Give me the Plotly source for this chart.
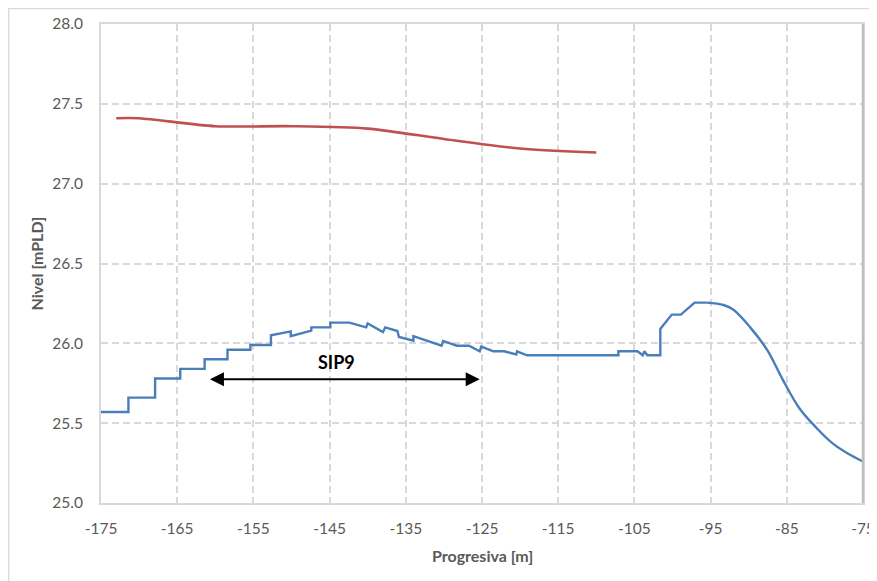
import plotly.graph_objects as go

# ---- data ----
blue_x = [-175, -171.4, -171.4, -167.9, -167.9, -164.6, -164.6, -161.4, -161.4, -158.4, -158.4,
          -155.4, -155.4, -152.7, -152.7, -150.1, -150.1, -147.4, -147.4, -144.9, -144.9, -142.4,
          -140.2, -140.0, -138.0, -137.7, -136.1, -135.9, -134.0, -134.0, -130.3, -130.1, -128.3,
          -126.7, -125.3, -125.1, -123.5, -122.1, -120.5, -120.4, -119.1, -107.1, -107.1, -104.6,
          -103.9, -103.7, -103.3, -101.6, -101.6, -100.1, -98.9, -97.1, -95.5]
blue_y = [25.57, 25.57, 25.66, 25.66, 25.78, 25.78, 25.84, 25.84, 25.90, 25.90, 25.96,
          25.96, 25.99, 25.99, 26.05, 26.075, 26.045, 26.08, 26.10, 26.10, 26.13, 26.13,
          26.10, 26.125, 26.07, 26.10, 26.077, 26.04, 26.016, 26.045, 25.985, 26.015, 25.985,
          25.985, 25.95, 25.98, 25.95, 25.95, 25.93, 25.95, 25.925, 25.925, 25.95, 25.95,
          25.925, 25.95, 25.925, 25.925, 26.09, 26.18, 26.18, 26.255, 26.255]

curve_x = [-95.5, -93.3, -92.0, -89.8, -87.6, -85.5, -83.3, -81.1, -78.9, -77.0, -75.0]
curve_y = [26.255, 26.24, 26.21, 26.10, 25.96, 25.77, 25.59, 25.47, 25.37, 25.31, 25.26]

red_x = [-173, -170, -160, -150, -140, -130, -120, -110]
red_y = [27.41, 27.41, 27.36, 27.36, 27.345, 27.28, 27.22, 27.195]

x_ticks = [-175, -165, -155, -145, -135, -125, -115, -105, -95, -85, -75]
y_ticks = [25.0, 25.5, 26.0, 26.5, 27.0, 27.5, 28.0]

arrow_x = [-160.9, -125.3]
arrow_y = 25.775
label_text = "SIP9"
label_pos = (-144.1, 25.88)

BLUE = "#4a7ebb"
RED = "#c0504d"
GRID = "#d9d9d9"
FONT = "Lato"

fig = go.Figure()
fig.add_trace(go.Scatter(x=blue_x, y=blue_y, mode="lines",
                         line=dict(color=BLUE, width=2.4), showlegend=False))
fig.add_trace(go.Scatter(x=curve_x, y=curve_y, mode="lines",
                         line=dict(color=BLUE, width=2.4, shape="spline", smoothing=1.0),
                         showlegend=False))
fig.add_trace(go.Scatter(x=red_x, y=red_y, mode="lines",
                         line=dict(color=RED, width=2.6, shape="spline", smoothing=0.8),
                         showlegend=False))

# double-headed arrow
fig.add_annotation(x=arrow_x[1], y=arrow_y, ax=arrow_x[0], ay=arrow_y,
                   xref="x", yref="y", axref="x", ayref="y", text="",
                   showarrow=True, arrowhead=2, startarrowhead=2, arrowside="end+start",
                   arrowsize=1.4, startarrowsize=1.4, arrowwidth=2, arrowcolor="black")
fig.add_annotation(x=label_pos[0], y=label_pos[1], xref="x", yref="y", text="<b>%s</b>" % label_text,
                   showarrow=False, font=dict(family=FONT, size=18, color="black"))

# axis titles
fig.add_annotation(x=0.5, y=-0.1086, xref="paper", yref="paper", text="<b>Progresiva [m]</b>",
                   showarrow=False, font=dict(family=FONT, size=16, color="#595959"),
                   xanchor="center", yanchor="middle")
fig.add_annotation(x=-0.0853, y=0.5, xref="paper", yref="paper", text="<b>Nivel [mPLD]</b>",
                   showarrow=False, textangle=-90, font=dict(family=FONT, size=16, color="#595959"),
                   xanchor="center", yanchor="middle")

# chart frame and right plot edge
fig.add_shape(type="rect", xref="paper", yref="paper", x0=-0.1213, x1=1.03, y0=-0.3, y1=1.0323,
              line=dict(color=GRID, width=1.5), layer="below")
fig.add_shape(type="line", xref="paper", yref="paper", x0=1, x1=1, y0=0, y1=1,
              line=dict(color="#bfbfbf", width=2.5))

fig.update_xaxes(range=[-175, -75], tickvals=x_ticks, ticktext=[str(v) for v in x_ticks],
                 showgrid=True, gridcolor=GRID, gridwidth=2, griddash="7px,4px",
                 showline=True, linecolor=GRID, linewidth=2, mirror=True,
                 zeroline=False, ticks="", ticklabelstandoff=10, automargin=False,
                 tickfont=dict(family=FONT, size=15.5, color="#595959"))
fig.update_yaxes(range=[25, 28], tickvals=y_ticks, ticktext=["%.1f" % v for v in y_ticks],
                 showgrid=True, gridcolor=GRID, gridwidth=2, griddash="7px,4px",
                 showline=True, linecolor=GRID, linewidth=2, mirror=True,
                 zeroline=False, ticks="", ticklabelstandoff=13, automargin=False,
                 tickfont=dict(family=FONT, size=15.5, color="#595959"))

fig.update_layout(width=869, height=573, margin=dict(l=93, r=14, t=16, b=78),
                  plot_bgcolor="white", paper_bgcolor="white",
                  font=dict(family=FONT))
fig.write_html("out.html")
